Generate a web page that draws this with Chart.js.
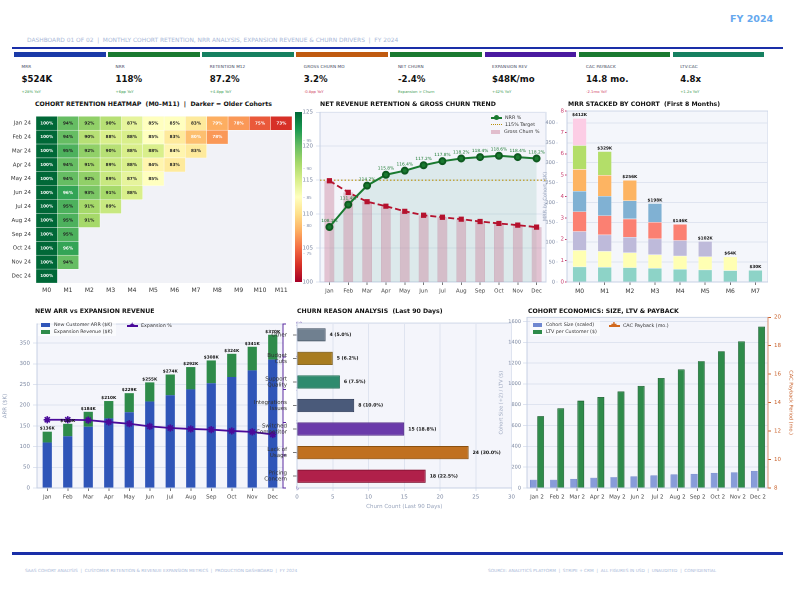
<!DOCTYPE html>
<html lang="en">
<head>
<meta charset="utf-8">
<title>SaaS Cohort Retention Dashboard</title>
<script src="https://cdn.jsdelivr.net/npm/chart.js@4.4.1/dist/chart.umd.min.js"></script>
<style>
  body { margin:0; width:800px; height:594px; background:#fff; position:relative; overflow:hidden;
         font-family:'DejaVu Sans', sans-serif; }
  canvas { position:absolute; z-index:1; }
  .abs { position:absolute; white-space:nowrap; z-index:3; }
  .ttl { position:absolute; font-weight:bold; font-size:6.2px; line-height:8px; color:#111; white-space:nowrap; z-index:3; }
  .kbar { position:absolute; top:52px; height:5px; }
  .klab { position:absolute; top:64px; font-size:4.2px; color:#3a4458; letter-spacing:0.1px; }
  .kval { position:absolute; top:74px; font-size:8.6px; font-weight:bold; color:#111; }
  .ksub { position:absolute; top:88.5px; font-size:3.8px; }
  .lg { position:absolute; font-size:4.8px; color:#333; line-height:7px; padding:1px 3px; z-index:5; }
  .lg div { white-space:nowrap; }
  .sw { display:inline-block; width:9px; height:4px; margin-right:4px; vertical-align:middle; }
  .ln { display:inline-block; width:11px; height:0; margin-right:3px; vertical-align:middle; position:relative; }
  .cbt { position:absolute; font-size:4.2px; color:#8a96b0; z-index:3; }
</style>
</head>
<body>

<div class="abs" style="left:730px;top:13px;font-size:9.5px;font-weight:bold;color:#66a8ee;">FY 2024</div>
<div class="abs" style="left:27px;top:37px;font-size:5.9px;color:#a9b8d8;">DASHBOARD 01 OF 02 &nbsp;|&nbsp; MONTHLY COHORT RETENTION, NRR ANALYSIS, EXPANSION REVENUE &amp; CHURN DRIVERS &nbsp;|&nbsp; FY 2024</div>
<div class="abs" style="left:12px;top:47px;width:771px;height:2px;background:#1a2fa8;"></div>

<div id="kpis"></div>

<div class="ttl" style="left:35px;top:100px;">COHORT RETENTION HEATMAP &nbsp;(M0–M11) &nbsp;| &nbsp;Darker = Older Cohorts</div>
<div class="ttl" style="left:320px;top:100px;">NET REVENUE RETENTION &amp; GROSS CHURN TREND</div>
<div class="ttl" style="left:568px;top:100px;">MRR STACKED BY COHORT &nbsp;(First 8 Months)</div>
<div class="ttl" style="left:35px;top:307px;">NEW ARR vs EXPANSION REVENUE</div>
<div class="ttl" style="left:297px;top:307px;">CHURN REASON ANALYSIS &nbsp;(Last 90 Days)</div>
<div class="ttl" style="left:528px;top:307px;">COHORT ECONOMICS: SIZE, LTV &amp; PAYBACK</div>

<div id="cbar" class="abs" style="left:295px;top:112px;width:7px;height:170px;"></div>
<div id="cbticks"></div>

<div class="abs" style="left:12px;top:552px;width:771px;height:3px;background:#1a2fa8;"></div>
<div class="abs" style="left:25px;top:568px;font-size:4.3px;color:#a9b8d8;">SAAS COHORT ANALYSIS &nbsp;|&nbsp; CUSTOMER RETENTION &amp; REVENUE EXPANSION METRICS &nbsp;|&nbsp; PRODUCTION DASHBOARD &nbsp;|&nbsp; FY 2024</div>
<div class="abs" style="left:488px;top:568px;font-size:4.3px;color:#a9b8d8;">SOURCE: ANALYTICS PLATFORM &nbsp;|&nbsp; STRIPE + CRM &nbsp;|&nbsp; ALL FIGURES IN USD &nbsp;|&nbsp; UNAUDITED &nbsp;|&nbsp; CONFIDENTIAL</div>

<div class="lg" style="left:488px;top:113px;">
  <div><span class="ln" style="border-top:2px solid #1a7a30;"><span style="position:absolute;left:3px;top:-3.5px;width:5px;height:5px;border-radius:50%;background:#1a7a30;"></span></span>NRR %</div>
  <div><span class="ln" style="border-top:1.5px dotted #b8900b;"></span>115% Target</div>
  <div><span class="sw" style="background:rgba(205,135,160,0.5);"></span>Gross Churn %</div>
</div>
<div class="lg" style="left:38px;top:320px;background:rgba(255,255,255,0.55);">
  <div><span class="sw" style="background:#2f55b8;"></span>New Customer ARR ($K)</div>
  <div><span class="sw" style="background:#2e8b4a;"></span>Expansion Revenue ($K)</div>
</div>
<div class="lg" style="left:124px;top:321px;">
  <div><span class="ln" style="border-top:2px solid #4a0a9a;"><span style="position:absolute;left:2px;top:-5px;font-size:7px;color:#4a0a9a;line-height:7px;">★</span></span>Expansion %</div>
</div>
<div class="lg" style="left:530px;top:320px;background:rgba(255,255,255,0.55);">
  <div><span class="sw" style="background:#7088d0;"></span>Cohort Size (scaled)</div>
  <div><span class="sw" style="background:#2e8b4a;"></span>LTV per Customer ($)</div>
</div>
<div class="lg" style="left:606px;top:321px;">
  <div><span class="ln" style="border-top:2px solid #d2691e;"><span style="position:absolute;left:2px;top:-5px;font-size:7px;color:#d2691e;line-height:7px;">✚</span></span>CAC Payback (mo.)</div>
</div>

<script>
// ---- KPI strip ----
var kpiLabels = ['MRR', 'NRR', 'RETENTION M12', 'GROSS CHURN MO', 'NET CHURN', 'EXPANSION REV', 'CAC PAYBACK', 'LTV:CAC'];
var kpiValues = ['$524K', '118%', '87.2%', '3.2%', '-2.4%', '$48K/mo', '14.8 mo.', '4.8x'];
var kpiSubs = ['+28% YoY', '+6pp YoY', '+4.8pp YoY', '-0.8pp YoY', 'Expansion > Churn', '+42% YoY', '-2.1mo YoY', '+1.2x YoY'];
var kpiSubColors = ['#3a9a50', '#3a9a50', '#3a9a50', '#d04060', '#3a9a50', '#3a9a50', '#d04060', '#3a9a50'];
var kpiColors = ['#1a3aa8', '#1a7a30', '#158060', '#c05a10', '#1a7a30', '#4a1aa0', '#1a7a30', '#158060'];

// ---- heatmap ----
var cohorts = ['Jan 24', 'Feb 24', 'Mar 24', 'Apr 24', 'May 24', 'Jun 24', 'Jul 24', 'Aug 24', 'Sep 24', 'Oct 24', 'Nov 24', 'Dec 24'];
var months = ['M0', 'M1', 'M2', 'M3', 'M4', 'M5', 'M6', 'M7', 'M8', 'M9', 'M10', 'M11'];
var retention = [
  [100, 94, 92, 90, 87, 85, 85, 83, 79, 78, 75, 73],
  [100, 94, 90, 88, 88, 85, 83, 80, 78],
  [100, 95, 92, 90, 88, 88, 84, 83],
  [100, 94, 91, 89, 88, 84, 83],
  [100, 94, 92, 89, 87, 85],
  [100, 96, 93, 91, 88],
  [100, 95, 91, 89],
  [100, 95, 91],
  [100, 95],
  [100, 96],
  [100, 94],
  [100]
];
var cbTicks = [95, 90, 85, 80, 75];

// ---- NRR & churn trend ----
var monthNames = ['Jan', 'Feb', 'Mar', 'Apr', 'May', 'Jun', 'Jul', 'Aug', 'Sep', 'Oct', 'Nov', 'Dec'];
var nrr = [108.1, 111.4, 114.2, 115.8, 116.4, 117.2, 117.8, 118.2, 118.4, 118.6, 118.4, 118.2];
var grossChurn = [3.58, 3.17, 2.84, 2.68, 2.50, 2.36, 2.29, 2.22, 2.14, 2.07, 2.01, 1.94];
var NRR_TARGET = 115;

// ---- MRR stacked by cohort ----
var mrrMonths = ['M0', 'M1', 'M2', 'M3', 'M4', 'M5', 'M6', 'M7'];
var mrrJan = [38.3, 37.4, 36.6, 34.9, 32.4, 30.8, 29.1, 29.8];
var mrrFeb = [41.6, 39.9, 37.4, 34.1, 33.3, 33.3, 34.5];
var mrrMar = [47.4, 41.6, 39.1, 39.9, 39.1, 38.3];
var mrrApr = [49.9, 48.3, 45.8, 41.6, 40.8];
var mrrMay = [51.6, 49.1, 45.8, 47.4];
var mrrJun = [54.9, 52.4, 51.6];
var mrrJul = [59.9, 59.9];
var mrrAug = [68.2];
var mrrSeries = [mrrJan, mrrFeb, mrrMar, mrrApr, mrrMay, mrrJun, mrrJul, mrrAug];
var mrrColors = ['#8dd3c7', '#ffffb3', '#bebada', '#fb8072', '#80b1d3', '#fdb462', '#b3de69', '#fccde5'];
var mrrTicks = [0, 50, 100, 150, 200, 250, 300, 350, 400];

// ---- New ARR vs expansion ----
var newArr = [110, 125, 148, 168, 183, 209, 224, 238, 253, 268, 284, 310];
var expansionArr = [26, 30, 36, 42, 46, 46, 50, 54, 55, 56, 57, 60];
var expansionPct = [20.8, 20.8, 20.7, 20.1, 19.6, 18.8, 18.3, 18.0, 17.8, 17.4, 17.1, 16.3];
var arrTicks = [0, 50, 100, 150, 200, 250, 300, 350];

// ---- churn reasons ----
var churnReasons = [['Other'], ['Budget', 'Cuts'], ['Support', 'Quality'], ['Integrations', 'Issues'], ['Switched', 'Competitor'], ['Lack of', 'Usage'], ['Pricing', 'Concern']];
var churnCounts = [4, 5, 6, 8, 15, 24, 18];
var churnShare = [5.0, 6.2, 7.5, 10.0, 18.8, 30.0, 22.5];
var churnColors = ['#708090', '#a87c20', '#2e8b6e', '#4a5a7a', '#6a3aaa', '#c07020', '#b0204a'];
var churnEdges = ['#4a5868', '#7a5810', '#1a6a50', '#2e3a58', '#4a2080', '#8a5010', '#801030'];

// ---- cohort economics ----
var econCohorts = ['Jan 2', 'Feb 2', 'Mar 2', 'Apr 2', 'May 2', 'Jun 2', 'Jul 2', 'Aug 2', 'Sep 2', 'Oct 2', 'Nov 2', 'Dec 2'];
var cohortSize = [79, 79, 88, 98, 104, 111, 120, 130, 136, 145, 149, 164];
var ltv = [690, 766, 839, 874, 927, 981, 1057, 1140, 1219, 1314, 1409, 1551];
var econTicks = [0, 200, 400, 600, 800, 1000, 1200, 1400, 1600];

// KPI cards
var kpiHtml = '';
for (var i = 0; i < kpiLabels.length; i++) {
  var left = 14 + i * 94.1;
  kpiHtml += '<div class="kbar" style="left:' + left + 'px;width:91.5px;background:' + kpiColors[i] + ';"></div>' +
    '<div class="klab" style="left:' + (left + 7.5) + 'px;">' + kpiLabels[i] + '</div>' +
    '<div class="kval" style="left:' + (left + 7.5) + 'px;">' + kpiValues[i] + '</div>' +
    '<div class="ksub" style="left:' + (left + 7.5) + 'px;color:' + kpiSubColors[i] + ';">' + kpiSubs[i] + '</div>';
}
document.getElementById('kpis').innerHTML = kpiHtml;

// RdYlGn
var rdylgn = ['#a50026', '#d73027', '#f46d43', '#fdae61', '#fee08b', '#ffffbf', '#d9ef8b', '#a6d96a', '#66bd63', '#1a9850', '#006837'];
function hex(h) { return [parseInt(h.substr(1, 2), 16), parseInt(h.substr(3, 2), 16), parseInt(h.substr(5, 2), 16)]; }
function cmap(t) {
  t = Math.max(0, Math.min(1, t)) * 10;
  var i = Math.min(9, Math.floor(t)), f = t - i;
  var a = hex(rdylgn[i]), b = hex(rdylgn[i + 1]);
  return 'rgb(' + [0, 1, 2].map(function (k) { return Math.round(a[k] + (b[k] - a[k]) * f); }).join(',') + ')';
}
document.getElementById('cbar').style.background = 'linear-gradient(to bottom,' + rdylgn.slice().reverse().join(',') + ')';
document.getElementById('cbticks').innerHTML = cbTicks.map(function (v) {
  return '<div class="cbt" style="left:303px;top:' + (112 + (100 - v) / 30 * 170 - 2.5) + 'px;">– ' + v + '</div>';
}).join('');

// chart helpers
Chart.defaults.font.family = "'DejaVu Sans', sans-serif";
Chart.defaults.font.size = 5.5;
Chart.defaults.color = '#7a86a0';
Chart.defaults.animation = false;
Chart.defaults.responsive = false;
Chart.defaults.devicePixelRatio = 2;
Chart.defaults.plugins.legend.display = false;
Chart.defaults.plugins.tooltip.enabled = false;

function mk(left, top, w, h) {
  var c = document.createElement('canvas');
  c.width = w; c.height = h;
  c.style.left = left + 'px'; c.style.top = top + 'px';
  c.style.width = w + 'px'; c.style.height = h + 'px';
  document.body.appendChild(c);
  return c;
}
function fixW(w) { return function (s) { s.width = w; }; }
function fixH(h) { return function (s) { s.height = h; }; }
function useTicks(vals) { return function (s) { s.ticks = vals.map(function (v) { return { value: v }; }); }; }
function plain(v) { return String(v); }
var GRID = '#dfe4f0', EDGE = '#c6d0e4', TICKC = '#7a86a0';

var plotBg = {
  id: 'plotBg',
  beforeDraw: function (chart, args, opts) {
    var a = chart.chartArea, c = chart.ctx;
    c.save();
    c.fillStyle = opts.color || '#f4f5fb';
    c.fillRect(a.left, a.top, a.width, a.height);
    if (opts.border) { c.strokeStyle = opts.border; c.lineWidth = 0.8; c.strokeRect(a.left, a.top, a.width, a.height); }
    c.restore();
  }
};

// 1. heatmap (stacked horizontal unit bars)
var heatSets = months.map(function (m, j) {
  return {
    label: m,
    data: retention.map(function (row) { return row[j] !== undefined ? 1 : null; }),
    backgroundColor: retention.map(function (row) { return row[j] !== undefined ? cmap((row[j] - 70) / 30) : 'rgba(0,0,0,0)'; }),
    borderColor: 'rgba(255,255,255,0.8)', borderWidth: 0.5, borderSkipped: false,
    barPercentage: 1, categoryPercentage: 1
  };
});
var heatText = {
  id: 'heatText',
  afterDatasetsDraw: function (chart) {
    var c = chart.ctx;
    c.save();
    c.font = 'bold 4.2px DejaVu Sans'; c.textAlign = 'center'; c.textBaseline = 'middle';
    chart.data.datasets.forEach(function (ds, j) {
      chart.getDatasetMeta(j).data.forEach(function (bar, r) {
        var v = retention[r][j];
        if (v === undefined) return;
        var p = bar.getCenterPoint();
        c.fillStyle = (v >= 96 || v <= 80) ? '#ffffff' : '#222222';
        c.fillText(v + '%', p.x, p.y);
      });
    });
    c.restore();
  }
};
new Chart(mk(0, 108, 292, 196), {
  type: 'bar',
  data: { labels: cohorts, datasets: heatSets },
  options: {
    indexAxis: 'y',
    layout: { padding: { top: 4, bottom: 2 } },
    plugins: { plotBg: { color: '#f1f2f7' } },
    scales: {
      x: {
        type: 'linear', stacked: true, min: 0, max: 12,
        grid: { display: false, drawTicks: false }, border: { display: false },
        afterBuildTicks: function (s) { s.ticks = months.map(function (m, i) { return { value: i + 0.5 }; }); },
        ticks: { autoSkip: false, maxRotation: 0, padding: 4, color: '#333', font: { size: 6 }, callback: function (v) { return months[Math.floor(v)]; } },
        afterFit: fixH(19)
      },
      y: { stacked: true, grid: { display: false, drawTicks: false }, border: { display: false },
           ticks: { color: '#333', font: { size: 5.5 }, padding: 5 }, afterFit: fixW(36) }
    }
  },
  plugins: [plotBg, heatText]
});

// 2. NRR & gross churn
var targetLine = {
  id: 'targetLine',
  beforeDatasetsDraw: function (chart) {
    var y = chart.scales.y.getPixelForValue(NRR_TARGET), a = chart.chartArea, c = chart.ctx;
    c.save();
    c.strokeStyle = '#b8900b'; c.lineWidth = 1.1; c.setLineDash([1.5, 2]);
    c.beginPath(); c.moveTo(a.left, y); c.lineTo(a.right, y); c.stroke();
    c.restore();
  }
};
var nrrLabels = {
  id: 'nrrLabels',
  afterDatasetsDraw: function (chart) {
    var c = chart.ctx;
    c.save();
    c.font = '4.3px DejaVu Sans'; c.fillStyle = '#1a7a30'; c.textAlign = 'center';
    chart.getDatasetMeta(2).data.forEach(function (pt, i) { c.fillText(nrr[i].toFixed(1) + '%', pt.x, pt.y - 5); });
    c.restore();
  }
};
new Chart(mk(296, 106, 256, 188), {
  data: {
    labels: monthNames,
    datasets: [
      { type: 'bar', label: 'Gross Churn %', data: grossChurn, yAxisID: 'yc', order: 3,
        backgroundColor: 'rgba(205,135,160,0.45)', borderColor: 'rgba(190,120,145,0.5)', borderWidth: 0.5,
        barPercentage: 0.52, categoryPercentage: 1 },
      { type: 'line', label: 'Churn trend', data: grossChurn, yAxisID: 'yc', order: 2,
        borderColor: '#b5122e', borderWidth: 1.8, borderDash: [6, 3],
        pointStyle: 'rect', pointRadius: 2.4, pointBackgroundColor: '#b5122e', pointBorderColor: '#b5122e' },
      { type: 'line', label: 'NRR %', data: nrr, yAxisID: 'y', order: 1,
        borderColor: '#1a7a30', borderWidth: 2, pointRadius: 3, pointBackgroundColor: '#1a7a30', pointBorderColor: '#0e5a20',
        fill: 'start', backgroundColor: 'rgba(110,185,165,0.18)' }
    ]
  },
  options: {
    layout: { padding: { top: 5 } },
    plugins: { plotBg: { color: '#f4f5fb', border: EDGE }, filler: { drawTime: 'beforeDatasetsDraw' } },
    scales: {
      x: { grid: { drawOnChartArea: false, offset: false, tickLength: 3, color: '#777' }, border: { color: EDGE },
           ticks: { color: '#444', font: { size: 5.5 } }, afterFit: fixH(12) },
      y: { min: 100, max: 125, ticks: { stepSize: 5, color: TICKC, font: { size: 5.5 } },
           grid: { color: GRID, tickLength: 4 }, border: { color: EDGE },
           title: { display: true, text: 'NRR (%)', color: '#a0aac0', font: { size: 5 }, padding: 0 },
           afterFit: fixW(24) },
      yc: { display: false, min: 0, max: 6 }
    }
  },
  plugins: [plotBg, targetLine, nrrLabels]
});

// 3. MRR stacked by cohort
var mrrTotals = mrrMonths.map(function (m, k) {
  return mrrSeries.reduce(function (s, arr) { return s + (arr[k] || 0); }, 0);
});
var mrrLabels = {
  id: 'mrrLabels',
  afterDatasetsDraw: function (chart) {
    var c = chart.ctx;
    c.save();
    c.font = 'bold 4.2px DejaVu Sans'; c.fillStyle = '#111'; c.textAlign = 'center';
    mrrMonths.forEach(function (m, k) {
      for (var d = mrrSeries.length - 1; d >= 0; d--) {
        if (mrrSeries[d][k] !== undefined) {
          var el = chart.getDatasetMeta(d).data[k];
          c.fillText('$' + Math.round(mrrTotals[k]) + 'K', el.x, el.y - 2);
          break;
        }
      }
    });
    c.restore();
  }
};
new Chart(mk(542, 106, 226, 188), {
  type: 'bar',
  data: {
    labels: mrrMonths,
    datasets: mrrSeries.map(function (arr, d) {
      return { label: cohorts[d], data: arr, backgroundColor: mrrColors[d], borderColor: 'rgba(255,255,255,0.6)', borderWidth: 0.4,
               barPercentage: 0.56, categoryPercentage: 1 };
    })
  },
  options: {
    layout: { padding: { top: 5 } },
    plugins: { plotBg: { color: '#f4f6fb', border: EDGE } },
    scales: {
      x: { stacked: true, grid: { drawOnChartArea: false, offset: false, tickLength: 3, color: '#777' }, border: { color: EDGE },
           ticks: { color: '#333', font: { size: 6 } }, afterFit: fixH(12) },
      y: { stacked: true, position: 'left', weight: 1, min: 0, max: 430,
           ticks: { color: TICKC, font: { size: 5 }, padding: 1, callback: plain }, afterBuildTicks: useTicks(mrrTicks),
           grid: { color: GRID, tickLength: 2 }, border: { display: false },
           title: { display: true, text: 'MRR by Cohort ($K)', color: '#98a4bc', font: { size: 5 }, padding: 0 },
           afterFit: fixW(16) },
      yIdx: { position: 'left', weight: 0, min: 0, max: 8,
              ticks: { stepSize: 1, color: '#c83c6e', font: { size: 5.5 }, padding: 1 },
              grid: { drawOnChartArea: false, tickLength: 2, color: '#c83c6e' }, border: { color: EDGE },
              afterFit: fixW(9) }
    }
  },
  plugins: [plotBg, mrrLabels]
});

// 4. New ARR vs expansion
var arrLabels = {
  id: 'arrLabels',
  afterDatasetsDraw: function (chart) {
    var c = chart.ctx;
    c.save();
    c.font = 'bold 4.2px DejaVu Sans'; c.fillStyle = '#111'; c.textAlign = 'center';
    chart.getDatasetMeta(1).data.forEach(function (el, i) { c.fillText('$' + (newArr[i] + expansionArr[i]) + 'K', el.x, el.y - 2); });
    c.restore();
  }
};
new Chart(mk(0, 311, 305, 191), {
  data: {
    labels: monthNames,
    datasets: [
      { type: 'bar', label: 'New Customer ARR ($K)', data: newArr, backgroundColor: '#2f55b8', stack: 'a', order: 2,
        barPercentage: 0.5, categoryPercentage: 0.9 },
      { type: 'bar', label: 'Expansion Revenue ($K)', data: expansionArr, backgroundColor: '#2e8b4a', stack: 'a', order: 2,
        barPercentage: 0.5, categoryPercentage: 0.9 },
      { type: 'line', label: 'Expansion %', data: expansionPct, yAxisID: 'y2', order: 1,
        borderColor: '#4a0a9a', borderWidth: 1.8, pointStyle: 'star', pointRadius: 3.6, pointBorderWidth: 1.6,
        pointBorderColor: '#4a0a9a', pointBackgroundColor: '#4a0a9a' }
    ]
  },
  options: {
    layout: { padding: { top: 5 } },
    plugins: { plotBg: { color: '#f4f5fb', border: EDGE } },
    scales: {
      x: { stacked: true, grid: { drawOnChartArea: false, offset: false, tickLength: 3, color: '#777' }, border: { color: EDGE },
           ticks: { color: '#444', font: { size: 5.5 } }, afterFit: fixH(14) },
      y: { stacked: true, min: 0, max: 396, ticks: { color: TICKC, font: { size: 5.5 }, callback: plain }, afterBuildTicks: useTicks(arrTicks),
           grid: { color: GRID, tickLength: 4 }, border: { color: EDGE },
           title: { display: true, text: 'ARR ($K)', color: '#98a4bc', font: { size: 5.5 }, padding: 2 },
           afterFit: fixW(37) },
      y2: { position: 'right', min: 0, max: 50, ticks: { stepSize: 10, color: '#5a2aa0', font: { size: 5 }, padding: 10 },
            grid: { drawOnChartArea: false, tickLength: 3, color: '#5a2aa0' }, border: { color: '#5a2aa0' },
            afterFit: fixW(22) }
    }
  },
  plugins: [plotBg, arrLabels]
});

// 5. Churn reasons
var churnLabels = {
  id: 'churnLabels',
  afterDatasetsDraw: function (chart) {
    var c = chart.ctx;
    c.save();
    c.font = 'bold 4.6px DejaVu Sans'; c.fillStyle = '#111'; c.textAlign = 'left'; c.textBaseline = 'middle';
    chart.getDatasetMeta(0).data.forEach(function (el, i) {
      c.fillText(churnCounts[i] + ' (' + churnShare[i].toFixed(1) + '%)', el.x + 4, el.y);
    });
    c.restore();
  }
};
new Chart(mk(250, 311, 268, 201), {
  type: 'bar',
  data: {
    labels: churnReasons,
    datasets: [{ label: 'Churn Count', data: churnCounts, backgroundColor: churnColors, borderColor: churnEdges, borderWidth: 0.9,
                 borderSkipped: false, barPercentage: 0.56, categoryPercentage: 1 }]
  },
  options: {
    indexAxis: 'y',
    layout: { padding: { top: 5 } },
    plugins: { plotBg: { color: '#f4f5fb', border: EDGE } },
    scales: {
      x: { min: 0, max: 30, ticks: { stepSize: 5, color: TICKC, font: { size: 5.5 } },
           grid: { color: GRID, tickLength: 3 }, border: { color: EDGE },
           title: { display: true, text: 'Churn Count (Last 90 Days)', color: '#98a4bc', font: { size: 5.5 }, padding: 2 },
           afterFit: fixH(24) },
      y: { grid: { drawOnChartArea: false, offset: false, tickLength: 4, color: '#777' }, border: { color: EDGE },
           ticks: { color: '#333', font: { size: 5.5, lineHeight: 1.1 }, padding: 6 }, afterFit: fixW(47) }
    }
  },
  plugins: [plotBg, churnLabels]
});

// 6. Cohort economics
new Chart(mk(498, 311, 297, 191), {
  type: 'bar',
  data: {
    labels: econCohorts,
    datasets: [
      { label: 'Cohort Size (scaled)', data: cohortSize, backgroundColor: 'rgba(100,125,205,0.75)', borderColor: '#6a80c8', borderWidth: 0.5,
        barPercentage: 0.95, categoryPercentage: 0.72 },
      { label: 'LTV per Customer ($)', data: ltv, backgroundColor: '#2e8b4a', borderColor: '#1d6432', borderWidth: 0.8,
        barPercentage: 0.95, categoryPercentage: 0.72 }
    ]
  },
  options: {
    layout: { padding: { top: 5 } },
    plugins: { plotBg: { color: '#f4f5fb', border: EDGE } },
    scales: {
      x: { grid: { drawOnChartArea: false, offset: false, tickLength: 3, color: '#777' }, border: { color: EDGE },
           ticks: { color: '#444', font: { size: 5.5 }, maxRotation: 0, autoSkip: false }, afterFit: fixH(14) },
      y: { position: 'left', min: 0, max: 1640, ticks: { color: TICKC, font: { size: 5 }, padding: 2, callback: plain },
           afterBuildTicks: useTicks(econTicks),
           grid: { color: GRID, tickLength: 4 }, border: { color: EDGE },
           title: { display: true, text: 'Cohort Size (÷2) / LTV ($)', color: '#98a4bc', font: { size: 5 }, padding: 0 },
           afterFit: fixW(29) },
      y2: { position: 'right', min: 8, max: 20, ticks: { stepSize: 2, color: '#c8602a', font: { size: 5.5 } },
            grid: { drawOnChartArea: false, tickLength: 3, color: '#c8602a' }, border: { color: '#d89070' },
            title: { display: true, text: 'CAC Payback Period (mo.)', color: '#c8602a', font: { size: 5 }, padding: 1 },
            afterFit: fixW(27) }
    }
  },
  plugins: [plotBg]
});
</script>
</body>
</html>
